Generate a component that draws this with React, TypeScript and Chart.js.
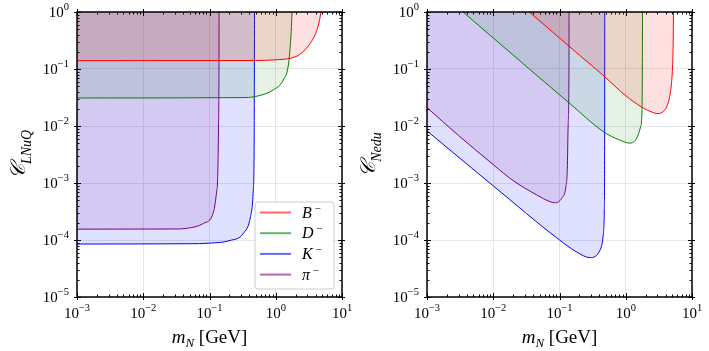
import React, { useEffect, useRef } from 'react';
import { Chart, registerables } from 'chart.js';

Chart.register(...registerables);

// ---------- axes ----------
const xTickValues = [1e-3, 1e-2, 1e-1, 1, 10];
const xTickExps = ['−3', '−2', '−1', '0', '1'];
const yTickValues = [1e-5, 1e-4, 1e-3, 1e-2, 1e-1, 1];
const yTickExps = ['−5', '−4', '−3', '−2', '−1', '0'];
const tickBase = '10';

// ---------- series ----------
const seriesNames = ['B', 'D', 'K', 'π'];
const seriesColors = ['#ff0000', '#008000', '#0000ff', '#800080'];
const seriesFills = ['rgba(255,0,0,0.12)', 'rgba(0,128,0,0.10)', 'rgba(0,0,255,0.12)', 'rgba(170,80,170,0.15)'];

// Left panel: C_LNuQ vs m_N [GeV]
const lnuqB_m = [0.001, 0.5, 1.0, 1.64, 2.3, 3.3, 4.0, 4.4, 4.7, 4.82];
const lnuqB_c = [0.14, 0.141, 0.145, 0.154, 0.18, 0.28, 0.42, 0.59, 0.85, 1.0];
const lnuqD_m = [0.001, 0.3, 0.5, 0.92, 1.3, 1.55, 1.68, 1.74, 1.76];
const lnuqD_c = [0.031, 0.0315, 0.033, 0.043, 0.064, 0.117, 0.32, 0.7, 1.0];
const lnuqK_m = [0.001, 0.05, 0.1, 0.204, 0.324, 0.417, 0.458, 0.472, 0.478];
const lnuqK_c = [8.5e-5, 8.6e-5, 8.8e-5, 9.8e-5, 1.3e-4, 2.6e-4, 7.5e-4, 5e-3, 1.0];
const lnuqPi_m = [0.001, 0.03, 0.045, 0.081, 0.115, 0.129, 0.132, 0.137, 0.139, 0.1395];
const lnuqPi_c = [1.55e-4, 1.56e-4, 1.6e-4, 1.95e-4, 3.1e-4, 7.5e-4, 1e-3, 1e-2, 0.1, 1.0];

// Right panel: C_Nedu vs m_N [GeV]
const neduB_m = [0.035, 0.1, 0.2, 0.47, 1.0, 1.74, 2.4, 3.07, 3.7, 4.17, 4.6, 4.9, 5.1, 5.2, 5.25];
const neduB_c = [1.0, 0.35, 0.175, 0.075, 0.034, 0.0215, 0.0178, 0.0165, 0.018, 0.022, 0.033, 0.056, 0.12, 0.3, 1.0];
const neduD_m = [0.0035, 0.01, 0.035, 0.139, 0.47, 0.8, 1.16, 1.46, 1.68, 1.76, 1.78, 1.79];
const neduD_c = [1.0, 0.35, 0.1, 0.0255, 0.0078, 0.0057, 0.005, 0.0061, 0.0098, 0.019, 0.1, 1.0];
const neduK_m = [0.001, 0.01, 0.1, 0.18, 0.29, 0.41, 0.46, 0.475, 0.48, 0.482];
const neduK_c = [0.0082, 8.9e-4, 1.0e-4, 6.2e-5, 4.9e-5, 6.7e-5, 1.3e-4, 3.4e-4, 3e-3, 1.0];
const neduPi_m = [0.001, 0.003, 0.01, 0.02, 0.045, 0.072, 0.085, 0.108, 0.125, 0.131, 0.135, 0.139, 0.1395];
const neduPi_c = [0.021, 0.0068, 0.0021, 1.1e-3, 6.2e-4, 4.7e-4, 4.5e-4, 5.4e-4, 8.6e-4, 1.7e-3, 1e-2, 0.1, 1.0];

const SERIF = '"Liberation Serif", "DejaVu Serif", serif';

type Part = { text: string; font: string; dy?: number };

function partsWidth(ctx: CanvasRenderingContext2D, parts: Part[]) {
  let w = 0;
  for (const p of parts) {
    ctx.font = p.font;
    w += ctx.measureText(p.text).width;
  }
  return w;
}

function drawParts(ctx: CanvasRenderingContext2D, parts: Part[], x: number, y: number, align: 'center' | 'left' | 'right') {
  const w = partsWidth(ctx, parts);
  let cx = align === 'center' ? x - w / 2 : align === 'right' ? x - w : x;
  ctx.textAlign = 'left';
  ctx.textBaseline = 'alphabetic';
  for (const p of parts) {
    ctx.font = p.font;
    ctx.fillText(p.text, cx, y + (p.dy || 0));
    cx += ctx.measureText(p.text).width;
  }
}

const tickParts = (exp: string): Part[] => [
  { text: tickBase, font: `15px ${SERIF}` },
  { text: exp, font: `10.5px ${SERIF}`, dy: -7 },
];

const minorOf = (lo: number, hi: number) => {
  const out: number[] = [];
  for (let d = lo; d < hi; d++) for (let k = 2; k <= 9; k++) out.push(k * Math.pow(10, d));
  return out;
};

const decoPlugin = {
  id: 'deco',
  afterDraw(chart: any, _args: any, opts: any) {
    const { ctx, chartArea: ca } = chart;
    const xs = chart.scales.x;
    const ys = chart.scales.y;
    ctx.save();
    ctx.strokeStyle = '#000';
    ctx.lineWidth = 1;
    ctx.beginPath();
    for (const v of xTickValues) {
      const px = Math.round(xs.getPixelForValue(v)) + 0.5;
      ctx.moveTo(px, ca.bottom + 3); ctx.lineTo(px, ca.bottom - 4);
      ctx.moveTo(px, ca.top - 3); ctx.lineTo(px, ca.top + 4);
    }
    for (const v of minorOf(-3, 1)) {
      const px = Math.round(xs.getPixelForValue(v)) + 0.5;
      ctx.moveTo(px, ca.bottom); ctx.lineTo(px, ca.bottom - 2.5);
      ctx.moveTo(px, ca.top); ctx.lineTo(px, ca.top + 2.5);
    }
    for (const v of yTickValues) {
      const py = Math.round(ys.getPixelForValue(v)) + 0.5;
      ctx.moveTo(ca.left - 3, py); ctx.lineTo(ca.left + 4, py);
      ctx.moveTo(ca.right + 3, py); ctx.lineTo(ca.right - 4, py);
    }
    for (const v of minorOf(-5, 0)) {
      const py = Math.round(ys.getPixelForValue(v)) + 0.5;
      ctx.moveTo(ca.left, py); ctx.lineTo(ca.left + 2.5, py);
      ctx.moveTo(ca.right, py); ctx.lineTo(ca.right - 2.5, py);
    }
    ctx.stroke();
    ctx.lineWidth = 1.5;
    ctx.strokeRect(ca.left, ca.top, ca.width, ca.height);

    ctx.fillStyle = '#000';
    // tick labels
    xTickValues.forEach((v, i) => {
      const px = xs.getPixelForValue(v);
      drawParts(ctx, tickParts(xTickExps[i]), px, ca.bottom + 21, 'center');
    });
    yTickValues.forEach((v, i) => {
      const py = ys.getPixelForValue(v);
      drawParts(ctx, tickParts(yTickExps[i]), ca.left - 8, py + 5, 'right');
    });

    // x title
    drawParts(ctx, [
      { text: 'm', font: `italic 19px ${SERIF}` },
      { text: 'N', font: `italic 13px ${SERIF}`, dy: 4 },
      { text: ' [GeV]', font: `19px ${SERIF}` },
    ], (ca.left + ca.right) / 2, 343, 'center');

    // y title
    ctx.save();
    ctx.translate(opts.yTitleX, (ca.top + ca.bottom) / 2);
    ctx.rotate(-Math.PI / 2);
    drawParts(ctx, [
      { text: '𝒞', font: `italic 21px ${SERIF}` },
      { text: opts.yTitleSub, font: `italic 14px ${SERIF}`, dy: 6 },
    ], 0, 0, 'center');
    ctx.restore();

    if (opts.legend) {
      const bw = 79, bh = 87;
      const bx = ca.right - 8 - bw, by = ca.bottom - 8 - bh;
      ctx.beginPath();
      const r = 3;
      ctx.moveTo(bx + r, by);
      ctx.arcTo(bx + bw, by, bx + bw, by + bh, r);
      ctx.arcTo(bx + bw, by + bh, bx, by + bh, r);
      ctx.arcTo(bx, by + bh, bx, by, r);
      ctx.arcTo(bx, by, bx + bw, by, r);
      ctx.closePath();
      ctx.fillStyle = 'rgba(255,255,255,0.85)';
      ctx.fill();
      ctx.strokeStyle = '#cccccc';
      ctx.lineWidth = 1;
      ctx.stroke();
      chart.data.datasets.forEach((ds: any, i: number) => {
        const ry = by + 10.5 + i * 20.7;
        ctx.save();
        ctx.globalAlpha = 0.6;
        ctx.strokeStyle = ds.borderColor;
        ctx.lineWidth = 2;
        ctx.beginPath();
        ctx.moveTo(bx + 5, ry);
        ctx.lineTo(bx + 36, ry);
        ctx.stroke();
        ctx.restore();
        ctx.fillStyle = '#000';
        drawParts(ctx, [
          { text: ds.label, font: `italic 16px ${SERIF}` },
          { text: ' −', font: `11px ${SERIF}`, dy: -6 },
        ], bx + 47, ry + 5, 'left');
      });
    }
    ctx.restore();
  },
};

function makeDatasets(ms: number[][], cs: number[][]) {
  return ms.map((m, i) => ({
    label: seriesNames[i],
    data: m.map((x, j) => ({ x, y: cs[i][j] })),
    borderColor: seriesColors[i],
    backgroundColor: seriesFills[i],
    borderWidth: 1,
    pointRadius: 0,
    fill: 'end',
    cubicInterpolationMode: 'monotone',
  }));
}

function makeConfig(datasets: any[], yWidth: number, padRight: number, yTitleX: number, yTitleSub: string, legend: boolean): any {
  return {
    type: 'line',
    data: { datasets },
    plugins: [decoPlugin],
    options: {
      animation: false,
      responsive: false,
      events: [],
      layout: { padding: { left: 0, right: padRight, top: 12, bottom: 0 } },
      plugins: {
        legend: { display: false },
        tooltip: { enabled: false },
        deco: { yTitleX, yTitleSub, legend },
      },
      scales: {
        x: {
          type: 'logarithmic',
          min: 1e-3,
          max: 10,
          afterBuildTicks: (s: any) => { s.ticks = xTickValues.map((v) => ({ value: v })); },
          afterFit: (s: any) => { s.height = 54; s.paddingLeft = 0; s.paddingRight = 0; },
          ticks: { display: false, autoSkip: false },
          grid: { color: '#e6e6e6', drawTicks: false, lineWidth: 1 },
          border: { display: false },
        },
        y: {
          type: 'logarithmic',
          min: 1e-5,
          max: 1,
          afterBuildTicks: (s: any) => { s.ticks = yTickValues.map((v) => ({ value: v })); },
          afterFit: (s: any) => { s.width = yWidth; s.paddingTop = 0; s.paddingBottom = 0; },
          ticks: { display: false, autoSkip: false },
          grid: { color: '#e6e6e6', drawTicks: false, lineWidth: 1 },
          border: { display: false },
        },
      },
    },
  };
}

function Panel(props: { left: number; width: number; config: any }) {
  const ref = useRef<HTMLCanvasElement | null>(null);
  useEffect(() => {
    if (!ref.current) return;
    const chart = new Chart(ref.current, props.config);
    return () => chart.destroy();
  }, []);
  return (
    <canvas
      ref={ref}
      width={props.width}
      height={351}
      style={{ position: 'absolute', left: props.left, top: 0, width: props.width, height: 351, display: 'block' }}
    />
  );
}

export default function App() {
  const leftCfg = makeConfig(
    makeDatasets([lnuqB_m, lnuqD_m, lnuqK_m, lnuqPi_m], [lnuqB_c, lnuqD_c, lnuqK_c, lnuqPi_c]),
    77, 12, 25, 'LNuQ', true,
  );
  const rightCfg = makeConfig(
    makeDatasets([neduB_m, neduD_m, neduK_m, neduPi_m], [neduB_c, neduD_c, neduK_c, neduPi_c]),
    73, 17, 21, 'Nedu', false,
  );
  return (
    <div style={{ position: 'absolute', left: 0, top: 0, width: 709, height: 351, background: '#fff' }}>
      <Panel left={0} width={354} config={leftCfg} />
      <Panel left={354} width={355} config={rightCfg} />
    </div>
  );
}
